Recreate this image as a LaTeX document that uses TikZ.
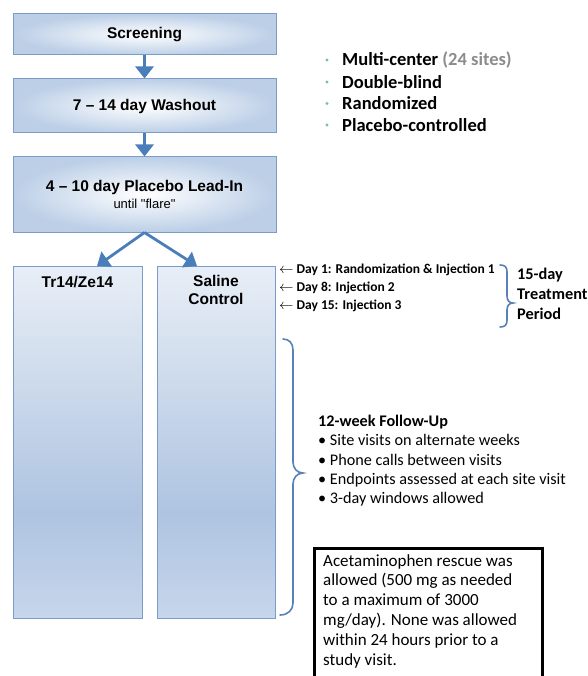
\documentclass[tikz,border=0pt]{standalone}
\usepackage{fontspec}
\setmainfont{Liberation Sans}
\newfontfamily\calib{Carlito}
\usetikzlibrary{arrows.meta,calc}
\definecolor{boxedge}{HTML}{7B9CC8}
\definecolor{boxfill}{HTML}{BCCFE7}
\definecolor{armtop}{HTML}{E8EEF7}
\definecolor{armupper}{HTML}{CFDCEC}
\definecolor{armmid}{HTML}{AFC4E1}
\definecolor{armbot}{HTML}{C6D6EB}
\definecolor{arrowblue}{HTML}{4A7EBB}
\definecolor{bracecol}{HTML}{5A80B8}
\definecolor{bulletgreen}{HTML}{7DBF9A}
\definecolor{sitesgray}{HTML}{8C8C8C}
\pgfdeclareverticalshading{armshade}{100bp}{color(0bp)=(armbot); color(25bp)=(armbot); color(40bp)=(armmid); color(60bp)=(armupper); color(75bp)=(armtop); color(100bp)=(armtop)}
\begin{document}
\begin{tikzpicture}[x=1pt,y=-1pt,
  phasebox/.style={draw=boxedge, line width=1pt, inner color=white, outer color=boxfill,
    minimum width=263pt, inner sep=0pt, align=center, font=\fontsize{15.5}{18}\selectfont\bfseries},
  armbox/.style={draw=boxedge, line width=1pt, shading=armshade,
    minimum height=352pt, inner sep=0pt},
  armlabel/.style={align=center, font=\fontsize{15.5}{18}\selectfont\bfseries, inner sep=0pt},
  flowarrow/.style={draw=arrowblue, line width=2.8pt, -{Triangle[width=18pt,length=12pt,fill=arrowblue]}},
  bracepath/.style={draw=bracecol, line width=1.6pt, line cap=round},
  daytext/.style={anchor=west, inner sep=0pt, font=\calib\fontsize{13.5}{15}\selectfont\bfseries},
  featuretext/.style={anchor=west, inner sep=0pt, font=\calib\fontsize{18.5}{20}\selectfont\bfseries},
  bulletmark/.style={fill=bulletgreen, circle, inner sep=0pt, minimum size=3.2pt},
]
\clip (0,0) rectangle (587,676);
\fill[white] (0,0) rectangle (587,676);

% phase boxes
\node[phasebox, minimum height=41pt] (screen) at (144.5,34.5) {Screening};
\node[phasebox, minimum height=54pt] (wash) at (144.5,106) {7 -- 14 day Washout};
\node[phasebox, minimum height=75pt] (lead) at (144.5,194.5) {4 -- 10 day Placebo Lead-In\\[-1pt]{\fontsize{13}{14}\selectfont\mdseries until \textquotedbl flare\textquotedbl}};

% arm boxes
\node[armbox, minimum width=129pt] (tr) at (77.5,442) {};
\node[armbox, minimum width=118pt] (sal) at (216,442) {};
\node[armlabel] (trlab) at (77.5,282) {Tr14/Ze14};
\node[armlabel] (sallab) at (216,290) {Saline\\Control};

% arrows
\draw[flowarrow] (screen.south) -- (wash.north);
\draw[flowarrow] (wash.south) -- (lead.north);
\coordinate (lefttip) at (97,266);
\coordinate (righttip) at (197,266);
\draw[flowarrow] (lead.south) -- (lefttip);
\draw[flowarrow] (lead.south) -- (righttip);

% features
\node[bulletmark] (b1) at (327,60) {};
\node[bulletmark] (b2) at (327,82) {};
\node[bulletmark] (b3) at (327,103.5) {};
\node[bulletmark] (b4) at (327,125) {};
\node[featuretext] (f1) at (342,60) {Multi-center \textcolor{sitesgray}{(24 sites)}};
\node[featuretext] (f2) at (342,82) {Double-blind};
\node[featuretext] (f3) at (342,103.5) {Randomized};
\node[featuretext] (f4) at (342,125) {Placebo-controlled};

% day lines
\node[daytext] (d1) at (279,270) {$\leftarrow$ Day 1: Randomization \& Injection 1};
\node[daytext] (d8) at (279,288) {$\leftarrow$ Day 8: Injection 2};
\node[daytext] (d15) at (279,305.5) {$\leftarrow$ Day 15: Injection 3};

% small brace
\draw[bracepath] (500,265) .. controls (505,265) and (507,267) .. (507,272)
  -- (507,296) .. controls (507,300) and (509,303) .. (513,303)
  .. controls (509,303) and (507,306) .. (507,310)
  -- (507,320) .. controls (507,325) and (505,327) .. (500,327);
\node[anchor=west, inner sep=0pt, align=left, font=\calib\fontsize{16.3}{20}\selectfont\bfseries] (treat) at (517,294) {15-day\\Treatment\\Period};

% large brace
\draw[bracepath] (283,339) .. controls (289,339) and (293,343) .. (293,350)
  -- (293,462) .. controls (293,468) and (297,473) .. (303,473)
  .. controls (297,473) and (293,478) .. (293,484)
  -- (293,603) .. controls (293,610) and (288,615) .. (280,615);

% follow-up text
\node[anchor=north west, inner sep=0pt, align=left, font=\calib\fontsize{16.2}{19.3}\selectfont] (follow) at (318,415)
 {\textbf{12-week Follow-Up}\\
  • Site visits on alternate weeks\\
  • Phone calls between visits\\
  • Endpoints assessed at each site visit\\
  • 3-day windows allowed};

% rescue box
\node[draw=black, line width=2.5pt, minimum width=228pt, minimum height=150pt, anchor=north west, inner sep=0pt] (rescue) at (313,547) {};
\node[anchor=north west, inner sep=0pt, align=left, font=\calib\fontsize{17}{19.8}\selectfont] (rescuetext) at (323,554)
 {Acetaminophen rescue was\\
  allowed (500 mg as needed\\
  to a maximum of 3000\\
  mg/day).  None was allowed\\
  within 24 hours prior to a\\
  study visit.};
\end{tikzpicture}
\end{document}
